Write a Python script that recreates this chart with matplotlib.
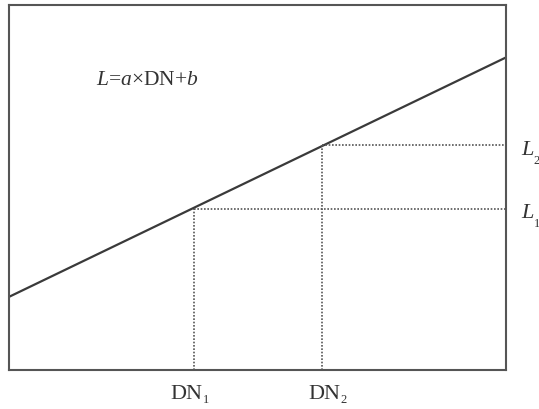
import matplotlib
matplotlib.use("Agg")
import matplotlib.pyplot as plt
import numpy as np

# Data (arbitrary units)
line_x = [0, 100]
line_y = [19.9, 85.5]
dn_values = [37.2, 63.0]
l_values = [43.9, 61.4]
dn_base = "DN"
dn_subs = ["1", "2"]
l_base = "$L$"
l_subs = ["1", "2"]
formula = "$L$=$a$×DN+$b$"

plt.rcParams['mathtext.fontset'] = 'custom'
plt.rcParams['mathtext.rm'] = 'Liberation Serif'
plt.rcParams['mathtext.it'] = 'Liberation Serif:italic'
plt.rcParams['font.family'] = ['Liberation Serif', 'DejaVu Sans']

W, H = 539, 409
fig = plt.figure(figsize=(W / 100, H / 100), dpi=100)
ax = fig.add_axes([9 / W, (H - 369.5) / H, 497 / W, 365 / H])
ax.set_xlim(0, 100)
ax.set_ylim(0, 100)
ax.set_xticks([])
ax.set_yticks([])
for s in ax.spines.values():
    s.set_color('#555555')
    s.set_linewidth(1.5)

tc = '#333333'
ax.plot(line_x, line_y, color='#3a3a3a', lw=1.6, solid_capstyle='butt')
for dn, lv in zip(dn_values, l_values):
    ax.plot([dn, dn], [0, lv], color='#555555', lw=1.2, ls=(0, (1, 1)))
    ax.plot([dn, 100], [lv, lv], color='#555555', lw=1.2, ls=(0, (1, 1)))

fs = 16
sfs = 9
ax.text(17.5, 77.9, formula, fontsize=15.5, color=tc, ha='left', va='baseline')

dn_x = [32.4, 60.2]
for x, sub in zip(dn_x, dn_subs):
    t = ax.text(x, -8.0, dn_base, fontsize=fs, color=tc, ha='left', va='baseline', clip_on=False)
    ax.annotate(sub, xy=(1, 0), xycoords=t, xytext=(0.5, -1.5), textcoords='offset points',
                fontsize=sfs, color=tc, ha='left', va='bottom', annotation_clip=False)

l_y = [41.5, 58.8]
for y, sub in zip(l_y, l_subs):
    t = ax.text(103.0, y, l_base, fontsize=fs, color=tc, ha='left', va='baseline', clip_on=False)
    ax.annotate(sub, xy=(1, 0), xycoords=t, xytext=(-0.5, -3), textcoords='offset points',
                fontsize=sfs, color=tc, ha='left', va='baseline', annotation_clip=False)

fig.savefig("out.png", dpi=100)
